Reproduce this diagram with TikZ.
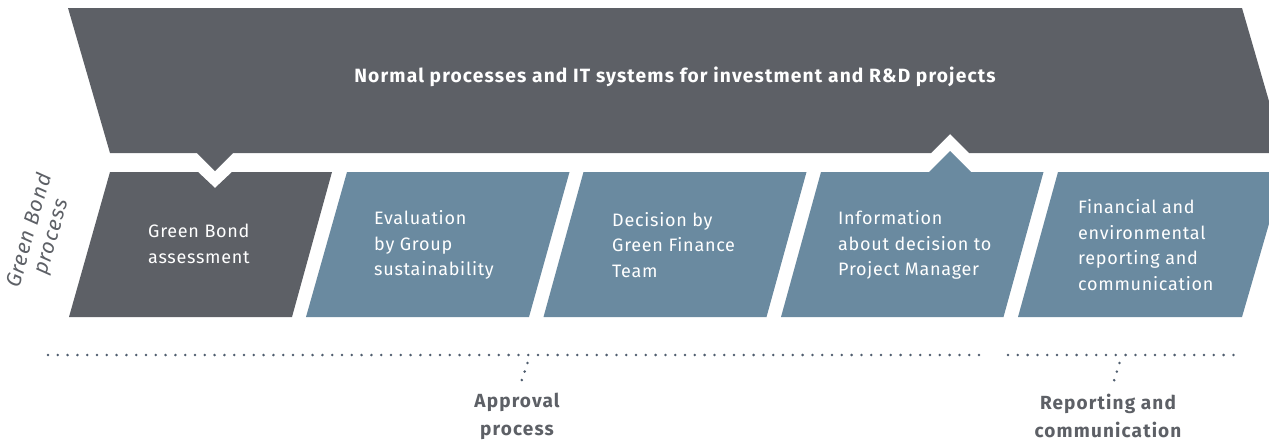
\documentclass[tikz,border=0pt]{standalone}
\usepackage{fontspec}
\setmainfont{Fira Sans}
\definecolor{bannergrey}{HTML}{5D6066}
\definecolor{stepblue}{HTML}{6A8AA0}
\definecolor{dotblue}{HTML}{4F5D6E}
\definecolor{labelgrey}{HTML}{5D6066}
\begin{document}
\begin{tikzpicture}[x=1pt,y=-1pt,
  boxtext/.style={text=white, align=left, anchor=west, inner sep=0pt,
    font=\fontsize{18}{25.5}\selectfont\addfontfeature{LetterSpace=4}},
  titletext/.style={text=white, inner sep=0pt,
    font=\fontsize{19.2}{22}\selectfont\bfseries\addfontfeature{LetterSpace=6}},
  sidelabel/.style={text=labelgrey, align=center, inner sep=0pt,
    font=\fontsize{21}{23}\selectfont\itshape\addfontfeature{LetterSpace=5}},
  phaselabel/.style={text=labelgrey, align=center, inner sep=0pt,
    font=\fontsize{19}{28}\selectfont\bfseries\addfontfeature{LetterSpace=6}},
  dotline/.style={dotblue, line width=2.8pt, line cap=round, dash pattern=on 0pt off 9.8pt},
  darkshape/.style={fill=bannergrey},
  blueshape/.style={fill=stepblue}]
\useasboundingbox (0,0) rectangle (1269,442);
\begin{scope}
\clip (0,0) rectangle (1269,442);
% top banner
\fill[darkshape] (68,8) -- (1242,8) -- (1284,153) -- (969,153) -- (950,134) -- (931,153)
  -- (233,153) -- (215,171) -- (197,153) -- (110,153) -- cycle;
% process steps
\fill[darkshape] (110,172) -- (198,172) -- (215,188) -- (232,172) -- (332,172) -- (292,317) -- (69,317) -- cycle;
\fill[blueshape] (347,172) -- (569.5,172) -- (529,317) -- (306,317) -- cycle;
\fill[blueshape] (583.5,172) -- (806.5,172) -- (766.5,317) -- (543.5,317) -- cycle;
\fill[blueshape] (821,172) -- (929,172) -- (950,151) -- (971,172) -- (1043.5,172) -- (1003.5,317) -- (781,317) -- cycle;
\fill[blueshape] (1058,172) -- (1284,172) -- (1242,317) -- (1018,317) -- cycle;
\end{scope}
% texts
\node[titletext] (title) at (675,77) {Normal processes and IT systems for investment and R\&D projects};
\node[boxtext] (s0) at (148,244) {Green Bond\\assessment};
\node[boxtext] (s1) at (374,245) {Evaluation\\by Group\\sustainability};
\node[boxtext] (s2) at (612,245) {Decision by\\Green Finance\\Team};
\node[boxtext] (s3) at (838,245) {Information\\about decision to\\Project Manager};
\node[boxtext] (s4) at (1078,245) {Financial and\\environmental\\reporting and\\communication};
\node[sidelabel, rotate=74] (side) at (41,234) {Green Bond\\process};
% phase brackets
\coordinate (a1) at (48,355);
\coordinate (a2) at (980,355);
\coordinate (b1) at (1008,355);
\coordinate (b2) at (1236,355);
\draw[dotline] (a1) -- (a2);
\draw[dotline] (b1) -- (b2);
\node[phaselabel] (approval) at (517,416) {Approval\\process};
\node[phaselabel] (reporting) at (1108,416) {Reporting and\\communication};
\coordinate (ac) at (527.5,363);
\coordinate (acend) at (520.8,383);
\coordinate (rc) at (1119.5,363);
\coordinate (rcend) at (1113.3,383);
\draw[dotline, dash pattern=on 0pt off 9pt] (ac) -- (acend);
\draw[dotline, dash pattern=on 0pt off 9pt] (rc) -- (rcend);
\end{tikzpicture}
\end{document}
